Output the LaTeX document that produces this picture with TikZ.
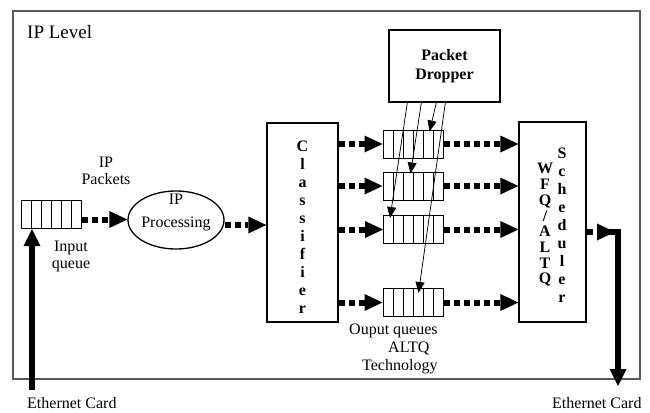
\documentclass[tikz,border=0pt]{standalone}
\usepackage{fontspec}
\setmainfont{Liberation Serif}
\usetikzlibrary{arrows.meta,calc,shapes.geometric}
\begin{document}
\begin{tikzpicture}[x=1pt,y=-1pt]
	\tikzset{txt/.style = {inner sep=0pt,align=center,font=\fontsize{16}{17}\selectfont}}
	\tikzset{bold/.style = {inner sep=0pt,align=center,font=\fontsize{16}{18}\selectfont\bfseries}}
	\tikzset{box/.style = {draw,line width=1.3pt,inner sep=0pt}}
	\tikzset{queue/.style = {draw,line width=1pt,inner sep=0pt,minimum width=60pt,minimum height=28pt,
		path picture={\foreach \k in {1,...,5} \draw[line width=1pt] ([xshift=\k*10pt]path picture bounding box.north west) -- ([xshift=\k*10pt]path picture bounding box.south west);}}}
	\tikzset{flow/.style = {line width=6pt,dash pattern=on 6pt off 4pt,-{Triangle[length=18pt,width=17pt,line width=0pt]}}}
	\tikzset{wire/.style = {line width=5.5pt,line join=miter,-{Triangle[length=17pt,width=17pt,line width=0pt]}}}
	\tikzset{drop/.style = {line width=0.75pt,-{Triangle[length=11pt,width=9pt]}}}
	\useasboundingbox (0,0) rectangle (650,412);
	\draw[gray!70!black,line width=1.2pt] (13,11) rectangle (640,379);
	\node[txt,anchor=west,font=\fontsize{19}{20}\selectfont] (lvl) at (27,32) {IP Level};
	\node[queue] (inq) at (51,214.5) {};
	\node[box,ellipse,minimum width=96pt,minimum height=58pt] (ip) at (176,220) {};
	\node[txt,font=\fontsize{16}{23}\selectfont] (ipl) at (176,212) {IP\\Processing};
	\node[box,minimum width=71pt,minimum height=199pt] (cls) at (302.5,222.5) {};
	\node[bold] (clsl) at (302.5,227) {C\\l\\a\\s\\s\\i\\f\\i\\e\\r};
	\node[box,minimum width=111pt,minimum height=72pt,bold,font=\fontsize{16}{19}\selectfont\bfseries] (pd) at (444.5,66) {Packet\\Dropper};
	\node[box,minimum width=67pt,minimum height=200pt] (sch) at (552.5,222) {};
	\node[bold,font=\fontsize{16}{15.7}\selectfont\bfseries] (wfq) at (545,225) {W\\F\\Q\\/\\A\\L\\T\\Q};
	\node[bold] (schl) at (562,225) {S\\c\\h\\e\\d\\u\\l\\e\\r};
	\node[queue] (q1) at (413,144) {};
	\node[queue] (q2) at (413,186) {};
	\node[queue] (q3) at (413.5,229.5) {};
	\node[queue] (q4) at (413,302.5) {};
	\node[txt] (pkts) at (106,171) {IP\\Packets};
	\node[txt] (inlbl) at (71,256.5) {Input\\queue};
	\node[txt,align=left,anchor=north west,font=\fontsize{16}{18}\selectfont] (outlbl) at (349,324) {Ouput queues\\\hspace{39pt}ALTQ\\\hspace{13pt}Technology};
	\node[txt,anchor=west] (ethl) at (27,403) {Ethernet Card};
	\node[txt,anchor=west] (ethr) at (552,403) {Ethernet Card};
	\coordinate (inbeg) at (32,390);
	\coordinate (outc) at (618,232);
	\coordinate (outend) at (618,386);
	\path[flow] ([yshift=-5pt]inq.east) edge ([yshift=-5pt]inq.east -| ip.west)
		([yshift=-5pt]ip.east) edge ([yshift=-5pt]ip.east -| cls.west)
		(cls.east |- q1) edge (q1)
		(cls.east |- q2) edge (q2)
		(cls.east |- q3) edge (q3)
		(cls.east |- q4) edge (q4)
		(q1) edge (q1 -| sch.west)
		(q2) edge (q2 -| sch.west)
		(q3) edge (q3 -| sch.west)
		(q4) edge (q4 -| sch.west)
		(sch.east |- outc) edge ([xshift=-3pt]outc);
	\path[drop] ($(pd.south west)+(19,0)$) edge ($(q3.north west)+(7,3)$)
		($(pd.south west)+(33,0)$) edge ($(q2.north west)+(28,2)$)
		($(pd.south west)+(48,0)$) edge ($(q1.north west)+(47,2)$)
		($(pd.south west)+(57,0)$) edge ($(q4.north west)+(36,5)$);
	\draw[wire] (inbeg) -- (inbeg |- inq.south);
	\draw[wire] ([xshift=-10pt]outc) -- (outc) -- (outend);
\end{tikzpicture}
\end{document}
